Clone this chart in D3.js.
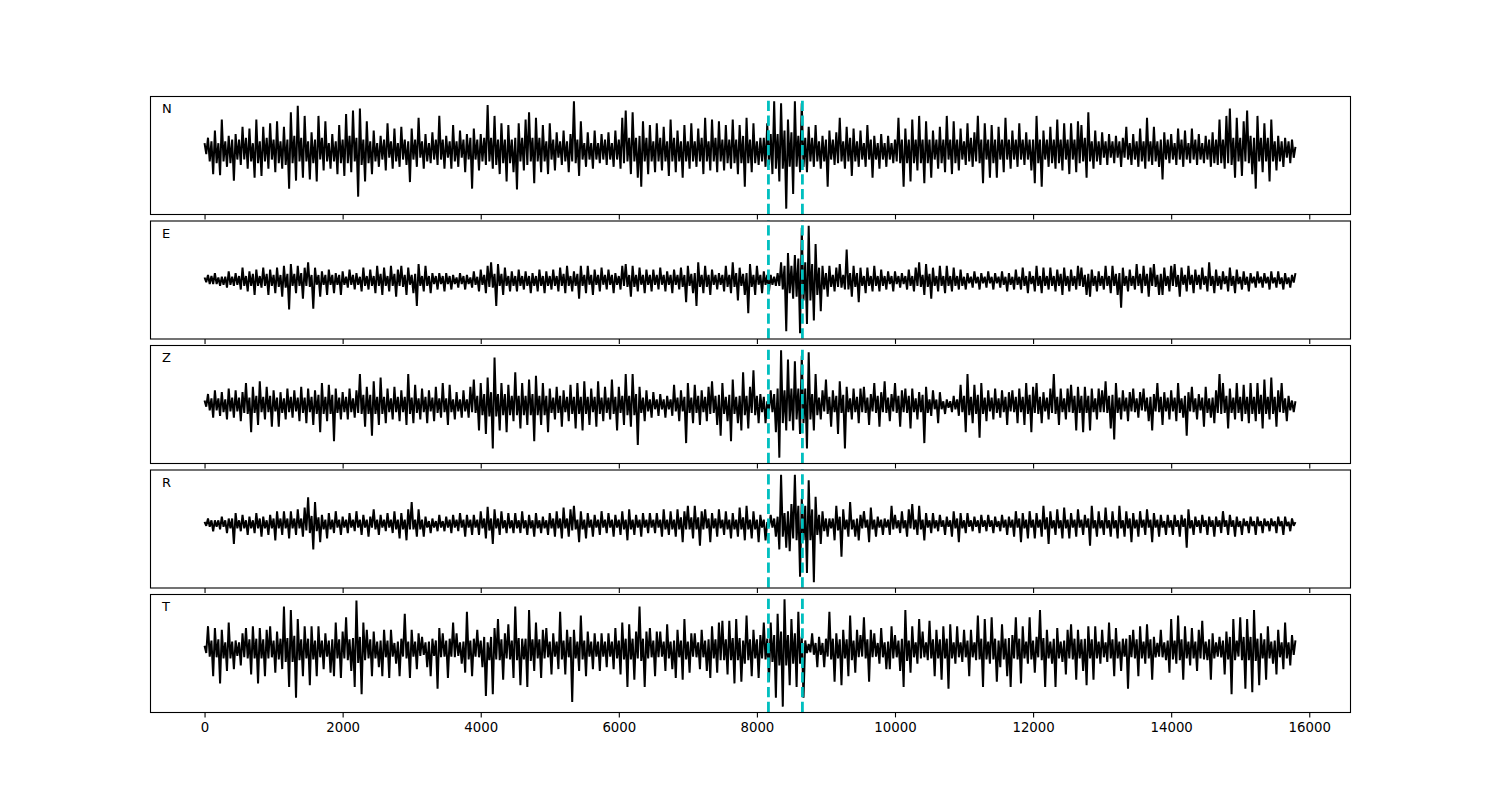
<!DOCTYPE html>
<html>
<head>
<meta charset="utf-8">
<script src="https://cdn.jsdelivr.net/npm/d3@7"></script>
<style>
  body { margin: 0; background: #fff; }
  text { font-family: "DejaVu Sans", sans-serif; }
</style>
</head>
<body>
<div id="chart"></div>
<script>
// component names, pick times and ticks
const components = ["N", "E", "Z", "R", "T"];
const pickTimes = [8167, 8659];
const xTickValues = [0, 2000, 4000, 6000, 8000, 10000, 12000, 14000, 16000];
const sampleStep = 50; // one peak every 50 samples, 0 .. 15800

// peak amplitudes (arbitrary units, up = positive)
const traceN = [
  -10, 35, -65, 55, -68, 85, -45, 40, -83, 45,
  -40, 65, -50, 60, -75, 85, -70, 65, -50, 75,
  -60, 80, -50, 65, -105, 105, -83, 123, -75, 95,
  -80, 50, -85, 95, -55, 80, -50, 45, -65, 70,
  -70, 100, -60, 110, -127, 115, -85, 80, -65, 55,
  -45, 40, -55, 75, -50, 60, -45, 65, -40, -87,
  60, -45, 90, -50, 45, -35, 50, -40, 95, -50,
  40, -50, 70, -45, 55, -60, 45, -105, 60, -55,
  45, -40, 125, -50, 95, -65, 75, -85, 70, -60,
  -107, 75, -55, 85, 105, -90, 90, -60, 70, -65,
  75, -55, 50, -40, 55, -60, 45, 135, -70, 80,
  -45, 50, -50, 55, -35, 45, -40, 50, -45, 55,
  -50, 90, 110, -65, 105, -75, -100, 80, -65, 70,
  -60, 75, -55, 65, -70, 85, -60, 55, -75, 70,
  -50, 75, -45, 60, -65, 90, -55, 85, -60, 80,
  -55, 70, -50, 85, -65, 70, -100, 90, -60, 75,
  -40, 35, -45, 75, -65, 135, -85, 130, -160, 85,
  -120, 135, -60, 130, -60, 65, -45, 70, -50, 40,
  -100, 55, -40, 50, 90, -50, 65, -70, 60, -45,
  55, -45, 70, -75, 40, -50, 45, -45, 40, -35,
  30, 90, -100, 60, -85, 85, -55, 95, -90, 80,
  -75, 55, -50, 65, -60, 95, -65, 80, -55, 60,
  -40, 75, -45, 50, 95, -90, 75, -75, 70, -75,
  65, -60, 90, -50, 55, -45, 75, -40, 50, -55,
  -90, 95, -100, 55, -45, 65, -50, 85, -55, 75,
  -65, 75, -60, 80, 70, -75, 105, -50, 55, -40,
  50, -40, 45, -35, 40, -45, 35, 65, -40, 45,
  -45, 60, -50, 90, -40, 65, -45, -80, 50, -35,
  45, -40, 60, -45, 55, -35, 60, -40, 45, -35,
  40, -45, 50, -40, 85, -50, 95, 115, -75, 90,
  -70, 80, 110, -65, -105, 95, -60, 75, -85, 85,
  -55, 40, -45, 35, -35, 30, 10
];
// small wiggle between peaks (width of the dense band)
const coreN = [
  20, 30, 25, 35, 20, 30, 25, 35, 30, 25,
  30, 25, 35, 30, 20, 35, 25, 30, 35, 25,
  30, 35, 25, 40, 30, 35, 40, 30, 35, 30,
  25, 35, 30, 25, 35, 30, 20, 30, 25, 35,
  30, 35, 40, 30, 35, 40, 30, 35, 25, 30,
  20, 25, 30, 20, 25, 30, 20, 25, 30, 25,
  25, 30, 20, 25, 30, 20, 25, 30, 25, 30,
  20, 25, 30, 25, 20, 30, 25, 35, 25, 30,
  30, 35, 30, 35, 40, 30, 35, 30, 35, 30,
  35, 30, 35, 40, 30, 35, 30, 35, 30, 25,
  25, 30, 20, 25, 30, 25, 30, 35, 30, 25,
  20, 25, 20, 25, 20, 25, 30, 25, 20, 25,
  30, 35, 30, 35, 30, 35, 40, 30, 35, 30,
  25, 30, 35, 30, 25, 30, 35, 30, 25, 30,
  25, 30, 25, 30, 35, 30, 25, 30, 35, 30,
  30, 35, 30, 35, 30, 35, 40, 35, 30, 35,
  25, 30, 35, 40, 45, 50, 45, 50, 55, 45,
  50, 45, 40, 45, 35, 30, 35, 30, 25, 30,
  30, 25, 30, 35, 30, 25, 30, 35, 30, 25,
  25, 20, 25, 30, 25, 20, 25, 20, 25, 20,
  30, 35, 30, 35, 30, 35, 30, 35, 30, 35,
  30, 25, 30, 35, 30, 25, 30, 35, 30, 25,
  25, 30, 35, 30, 35, 30, 25, 30, 35, 30,
  25, 30, 25, 30, 25, 30, 25, 30, 25, 30,
  30, 35, 30, 25, 30, 35, 30, 35, 30, 25,
  30, 25, 30, 35, 30, 35, 30, 25, 30, 25,
  20, 25, 20, 25, 20, 25, 20, 25, 20, 25,
  25, 30, 25, 30, 25, 30, 25, 30, 25, 30,
  25, 20, 25, 30, 25, 20, 25, 30, 25, 20,
  25, 30, 35, 30, 35, 30, 35, 40, 35, 30,
  35, 30, 35, 40, 35, 30, 35, 30, 35, 30,
  25, 30, 25, 20, 25, 20, 10
];

const traceE = [
  -5, 15, -10, 20, -15, 10, -20, 25, -15, 20,
  -25, 35, -30, 25, -40, 30, -20, 35, -40, 30,
  -35, 35, -45, 40, -80, 45, -35, 40, -50, 35,
  50, -78, 35, -45, 25, -40, 30, -35, 20, -40,
  25, -20, 30, -25, 20, -30, 35, -25, 30, -35,
  40, -40, 35, -30, 40, -45, 30, 40, -40, 35,
  -35, -70, 45, -30, 40, -35, 20, -25, 20, -30,
  20, -25, 15, -20, 20, -25, 15, -20, 25, -30,
  30, -35, 40, 50, -70, 45, -40, 35, -30, 25,
  -30, 30, -25, 25, -35, 20, -30, 30, -35, 25,
  -25, 30, -30, 35, -35, 40, -30, 25, -50, 40,
  -35, 40, -40, 30, -30, 35, -25, 30, -35, 20,
  -25, 40, 45, -45, 40, -30, 35, -35, 30, -30,
  30, -25, 35, -30, 25, -35, 30, -25, 35, -60,
  40, -35, -70, 50, -35, 40, -40, 30, -25, 20,
  -30, 40, -35, 50, -55, 35, -40, -90, 45, -40,
  40, -35, 25, -30, 15, -15, 20, 50, -140, 75,
  -50, 70, -145, 145, -120, 150, -110, 100, -85, 40,
  -45, 40, -30, 35, 45, -25, 85, -45, 40, -60,
  35, -35, 35, -30, 40, -30, 30, -25, 25, -30,
  25, -20, 20, -25, 30, -30, 35, 50, -40, 45,
  -50, 35, -30, 40, -35, 40, -30, 35, -25, 30,
  -25, 20, -20, 25, -25, 20, -20, 25, -25, 20,
  -20, 25, -30, 20, -25, 30, -25, 35, -35, 25,
  -30, 40, -35, 35, -25, 35, -30, 30, -40, 35,
  -30, 30, -25, 40, 35, -40, -45, 30, -30, 25,
  -25, 40, -35, 40, -40, -75, 35, -30, 30, -25,
  45, -35, 40, -45, 35, 45, -40, -40, 35, -30,
  40, 45, -45, 35, -30, 40, -35, 30, -25, 35,
  -30, 50, -35, 30, -25, 25, -30, 35, -35, 30,
  -25, 25, -30, 20, -20, 25, -20, 20, -25, 25,
  -20, 25, -25, 20, -20, 15, 20
];
const coreE = [
  8, 10, 12, 10, 8, 12, 10, 12, 10, 12,
  12, 15, 12, 15, 18, 15, 12, 15, 18, 15,
  15, 18, 15, 20, 18, 15, 18, 15, 20, 15,
  18, 15, 12, 15, 12, 15, 12, 15, 12, 15,
  12, 10, 12, 15, 12, 10, 15, 12, 15, 12,
  15, 18, 15, 12, 15, 18, 15, 18, 15, 12,
  15, 18, 15, 12, 15, 12, 10, 12, 10, 12,
  10, 12, 10, 8, 10, 12, 10, 8, 12, 10,
  12, 15, 18, 20, 18, 15, 18, 15, 12, 15,
  12, 15, 12, 15, 12, 15, 12, 15, 12, 15,
  12, 15, 12, 15, 18, 15, 12, 15, 18, 15,
  15, 12, 15, 12, 15, 12, 15, 12, 15, 12,
  12, 15, 18, 15, 18, 15, 12, 15, 12, 15,
  12, 15, 12, 15, 12, 15, 12, 15, 18, 15,
  15, 18, 20, 18, 15, 18, 15, 12, 15, 12,
  15, 18, 15, 18, 20, 15, 18, 20, 18, 15,
  12, 15, 12, 15, 12, 10, 15, 25, 40, 35,
  40, 45, 60, 55, 50, 55, 45, 40, 35, 25,
  20, 18, 15, 18, 20, 15, 25, 20, 18, 20,
  15, 12, 15, 12, 15, 12, 15, 12, 10, 12,
  10, 12, 10, 12, 15, 12, 15, 18, 15, 18,
  18, 15, 12, 15, 12, 15, 12, 15, 12, 15,
  10, 8, 10, 8, 10, 8, 10, 8, 10, 8,
  10, 12, 10, 12, 10, 12, 10, 15, 12, 10,
  12, 15, 12, 15, 12, 15, 12, 15, 18, 15,
  12, 15, 12, 15, 18, 15, 18, 15, 12, 15,
  12, 15, 12, 15, 18, 20, 15, 12, 15, 12,
  15, 18, 15, 18, 15, 18, 15, 18, 15, 12,
  15, 18, 15, 12, 15, 12, 15, 12, 15, 12,
  12, 15, 12, 15, 12, 10, 12, 15, 12, 10,
  10, 12, 10, 8, 10, 8, 10, 8, 10, 8,
  8, 10, 8, 10, 8, 6, 5
];

const traceZ = [
  -5, 30, -35, 40, -30, 35, -40, 45, -35, 40,
  -45, 35, 60, -75, 50, -55, 65, -40, 50, -60,
  40, -60, 35, -40, 45, -35, 40, -45, 50, -50,
  45, -55, 40, -75, 60, -45, 55, -100, 45, -40,
  35, -40, 45, -35, 40, 85, -60, 50, -85, 65,
  -55, 75, -50, 45, -40, 50, -45, 40, -55, 85,
  -50, 55, -40, 45, -50, 40, -45, 50, -35, 60,
  -55, 55, -40, 35, -35, 40, -35, 50, 70, -70,
  60, -80, 75, -120, 130, -70, 60, -75, 55, -45,
  90, -65, 60, -55, 70, -100, 80, -55, 60, -75,
  45, -40, 50, -60, 40, -45, 55, -65, 60, -70,
  65, -55, 45, -60, 65, -45, 50, -40, 70, -70,
  50, -55, 85, -60, 85, -110, 50, -45, 40, -35,
  35, -30, 30, -35, 25, -30, 55, -45, 40, -105,
  60, -50, 55, -55, 40, -45, 50, 65, -55, -85,
  60, -45, -100, 70, -50, -70, 90, -65, 50, 95,
  -50, 30, -50, 10, 40, -75, -145, 150, -70, 125,
  -70, 120, -80, 135, -120, 145, -70, 85, -40, 40,
  70, -60, 40, -80, 65, -120, 50, -40, 45, -50,
  45, 50, -55, 30, 60, -60, 35, 65, -45, 30,
  60, -60, 40, 45, -65, 45, -40, 35, -105, 50,
  -30, 40, -50, 35, -25, 15, -20, 25, -30, 55,
  -75, 85, -50, 55, -90, 60, -45, 40, -40, 45,
  -35, 40, -55, 35, 40, -50, 45, -55, 60, -75,
  50, 60, -50, 35, -40, 45, 85, -55, 45, -40,
  45, 55, -70, 50, -75, 50, -70, 45, -40, 45,
  40, 65, -65, -95, 60, -40, 40, -45, 35, 45,
  -35, 35, 45, -45, -70, 30, 60, -55, 35, -40,
  40, -45, 60, -35, -85, 35, 50, -40, 30, -60,
  50, -35, -50, 40, 85, 60, -65, 45, -40, 60,
  -45, 55, -50, 60, -45, 60, -65, 70, -40, 75,
  -60, 40, 60, -45, 25, -20, 10
];
const coreZ = [
  12, 15, 18, 15, 18, 20, 15, 18, 20, 18,
  20, 22, 25, 20, 22, 25, 20, 22, 20, 25,
  18, 20, 22, 18, 20, 22, 18, 20, 22, 20,
  20, 22, 25, 28, 25, 22, 25, 28, 22, 20,
  20, 22, 20, 18, 22, 25, 28, 25, 28, 25,
  22, 25, 22, 20, 18, 20, 22, 20, 22, 25,
  20, 22, 18, 20, 22, 18, 20, 22, 18, 20,
  18, 20, 15, 18, 15, 18, 15, 20, 22, 25,
  28, 30, 32, 35, 32, 30, 28, 30, 28, 25,
  28, 25, 28, 25, 28, 30, 28, 25, 28, 25,
  22, 20, 22, 25, 20, 22, 25, 22, 25, 22,
  25, 22, 20, 22, 25, 20, 22, 20, 25, 22,
  22, 25, 28, 25, 28, 30, 22, 20, 18, 15,
  12, 15, 12, 15, 12, 15, 18, 20, 18, 22,
  22, 20, 22, 25, 20, 22, 25, 22, 25, 28,
  25, 22, 28, 25, 22, 25, 28, 25, 22, 28,
  25, 20, 22, 15, 20, 30, 45, 50, 40, 45,
  45, 40, 45, 50, 45, 40, 30, 28, 20, 18,
  25, 22, 20, 25, 22, 28, 20, 18, 20, 22,
  20, 22, 20, 18, 22, 25, 20, 22, 20, 18,
  22, 25, 20, 22, 25, 20, 18, 20, 28, 22,
  15, 12, 15, 12, 10, 8, 10, 12, 15, 20,
  25, 28, 22, 25, 28, 25, 20, 18, 20, 22,
  18, 20, 22, 18, 20, 22, 20, 22, 25, 28,
  22, 25, 22, 18, 20, 22, 25, 22, 20, 18,
  20, 22, 25, 22, 25, 22, 25, 20, 18, 20,
  20, 22, 25, 28, 22, 20, 18, 20, 18, 20,
  18, 15, 18, 20, 22, 18, 20, 22, 18, 20,
  18, 20, 22, 18, 25, 18, 20, 18, 15, 20,
  22, 18, 20, 22, 25, 22, 25, 22, 20, 22,
  22, 25, 22, 25, 22, 25, 28, 25, 22, 25,
  22, 20, 22, 18, 15, 12, 8
];

const traceR = [
  -5, 15, -20, 10, -15, 20, -25, 15, -55, 30,
  -20, 25, -30, 20, -25, 30, -35, 20, -30, 25,
  -45, 35, -30, 35, -40, 35, -30, 40, -35, 45,
  73, -70, 60, -50, 25, -40, 30, -25, 35, -30,
  20, -25, 30, -20, 35, -30, 25, -35, 20, 40,
  -30, 25, -20, 30, -25, 35, -40, 30, -45, 40,
  60, -35, 40, -35, 20, -25, 15, -20, 25, -20,
  20, -25, 25, -20, 30, -35, 25, -30, 25, -30,
  35, -40, 47, -55, 40, -30, 35, -25, 30, -25,
  30, -25, 35, -30, 25, -35, 30, -25, 20, -30,
  30, -35, 35, -40, 45, -35, 40, 50, -50, 35,
  -40, 30, -35, 25, -30, 35, -25, 30, -35, 25,
  -30, 35, -45, 40, -30, 25, -35, 30, -25, 30,
  -25, 30, -35, 40, -30, 35, -35, 40, -50, 35,
  50, -40, 50, -60, 35, 40, -50, 30, -35, 40,
  -30, 35, -40, 30, -35, 45, -45, 50, -40, 35,
  -50, 25, -45, 5, 25, -35, -70, 135, -65, -75,
  55, 135, -145, 70, -135, 120, -160, 75, -55, 35,
  -35, 15, -45, 50, -90, 40, -35, 60, -35, -45,
  25, 35, -50, 45, -35, 20, -30, 15, -30, 50,
  25, -25, 35, -35, 40, 55, -30, 50, -45, 30,
  -25, 30, -20, 25, -30, 20, -35, 35, -50, 30,
  -25, 30, -20, 20, -25, 25, -20, 25, -25, 20,
  -20, 25, -30, 20, -35, 35, -50, 30, -40, 35,
  -40, 30, -35, 50, -55, 35, -30, 40, -40, 45,
  -40, 30, -35, 40, -30, 25, -60, 50, -35, 35,
  -30, 45, -35, 35, -40, 50, -35, 35, -50, 30,
  -35, 35, -30, 40, -50, 30, -35, 25, -30, 25,
  -30, 25, -35, 25, -65, 40, -30, 20, -25, 25,
  -30, 20, -35, 20, -25, 35, -30, 25, -35, 20,
  -30, 15, -25, 20, -30, 20, -25, 15, -20, 15,
  -25, 20, -30, 20, -20, 15, -25
];
const coreR = [
  6, 8, 10, 8, 10, 8, 10, 12, 15, 12,
  10, 12, 10, 12, 10, 12, 15, 12, 10, 12,
  15, 12, 15, 12, 15, 12, 15, 12, 15, 18,
  25, 22, 20, 18, 15, 12, 15, 12, 10, 12,
  10, 12, 10, 12, 10, 12, 10, 12, 10, 15,
  12, 10, 12, 10, 12, 15, 12, 15, 12, 15,
  15, 12, 15, 12, 10, 8, 10, 8, 10, 8,
  10, 12, 10, 12, 10, 12, 10, 12, 10, 12,
  12, 15, 18, 15, 12, 15, 12, 10, 12, 10,
  12, 10, 12, 10, 12, 10, 12, 10, 12, 10,
  12, 15, 12, 15, 12, 15, 18, 15, 12, 15,
  12, 10, 12, 10, 12, 10, 12, 10, 12, 10,
  12, 15, 12, 15, 12, 10, 12, 10, 12, 10,
  12, 10, 12, 15, 12, 15, 12, 15, 18, 15,
  15, 18, 15, 18, 15, 12, 15, 12, 15, 12,
  12, 15, 12, 15, 12, 15, 18, 15, 12, 15,
  12, 10, 12, 8, 10, 15, 20, 35, 30, 35,
  40, 45, 50, 45, 50, 45, 40, 30, 25, 20,
  15, 12, 15, 18, 20, 15, 12, 15, 12, 15,
  12, 10, 12, 15, 12, 10, 12, 10, 12, 15,
  12, 10, 12, 10, 12, 15, 12, 15, 12, 10,
  10, 12, 10, 8, 10, 8, 10, 12, 15, 12,
  10, 8, 10, 8, 10, 8, 10, 8, 10, 8,
  8, 10, 12, 10, 12, 10, 15, 12, 12, 10,
  12, 10, 12, 15, 18, 12, 10, 12, 10, 12,
  12, 10, 12, 10, 12, 10, 15, 12, 10, 12,
  10, 12, 10, 12, 10, 12, 10, 12, 15, 12,
  12, 10, 12, 10, 12, 10, 12, 10, 8, 10,
  10, 8, 10, 8, 15, 12, 10, 8, 10, 8,
  10, 8, 10, 8, 10, 8, 10, 8, 10, 8,
  8, 6, 8, 6, 8, 6, 8, 6, 8, 6,
  8, 6, 8, 6, 6, 5, 5
];

const traceT = [
  -10, 65, -75, 60, -95, 55, -60, 75, -55, 25,
  -45, 45, 60, -70, 65, -95, 60, -75, 55, 65,
  -65, 50, -55, 120, -105, 110, -135, 85, -75, 65,
  -100, 65, -75, 65, -55, 45, -65, -75, 75, -80,
  50, 90, -60, -105, 137, -125, 75, 55, -75, 50,
  -50, -75, 55, -80, 55, -40, -75, 30, 100, -80,
  55, -55, 45, 35, -50, -75, 30, -110, 60, 45,
  -80, 30, 75, 45, -40, -65, 105, -75, 30, 55,
  -50, -130, 20, -125, 60, 85, -85, 45, 70, -80,
  120, -100, 30, -105, 110, -60, 75, -80, 55, 60,
  -70, 45, -55, 105, -70, 55, -147, 55, -60, 95,
  -75, 50, -55, 45, -60, 45, -50, 45, -55, 60,
  -70, 75, -105, 70, -85, 50, 120, -105, 50, 60,
  -75, 50, 50, -60, 70, -55, -80, 55, -85, 85,
  -65, 45, 45, -55, 55, -60, -80, 65, -65, 75,
  80, -70, 80, -95, 85, -90, -40, 95, -75, 55,
  -80, 40, 75, -90, 75, -135, 100, -160, 140, -100,
  85, -105, 105, -135, 25, 15, 45, -50, 35, -50,
  30, 105, -90, 45, -100, 55, -75, 95, -65, 55,
  40, 90, -90, 55, 45, -40, 60, -55, -55, 65,
  40, -60, -105, 110, -65, 65, -40, 85, 50, -30,
  80, -75, 55, -85, 65, -110, 70, -40, 65, -35,
  55, -75, 55, -30, 95, -105, 85, -40, 90, -90,
  -50, 70, -75, -105, 40, 90, -95, 65, -40, 90,
  -65, 35, 110, -105, 55, -40, -105, 60, -35, -70,
  55, 70, -85, 55, -60, -100, 65, -85, 65, -40,
  55, -35, 75, -75, 60, -60, 30, -110, 40, 55,
  -75, 65, -40, 70, -85, 35, -20, 55, -30, -65,
  85, -40, 95, -85, 65, -45, 60, -60, 55, 80,
  -30, -85, 45, -20, 35, -70, 50, -125, 85, -20,
  90, -110, 85, -120, 110, -100, 45, -85, 65, -40,
  -70, 55, -55, 75, -45, 40, 25
];
const coreT = [
  10, 20, 25, 22, 28, 25, 20, 25, 22, 18,
  20, 22, 25, 28, 25, 30, 25, 28, 25, 22,
  25, 28, 30, 35, 32, 35, 38, 30, 28, 25,
  30, 28, 25, 22, 25, 20, 25, 28, 25, 28,
  25, 30, 28, 32, 38, 35, 30, 25, 28, 25,
  22, 25, 22, 25, 20, 18, 22, 20, 25, 22,
  20, 22, 18, 15, 20, 22, 18, 25, 22, 20,
  25, 20, 22, 18, 20, 22, 28, 25, 20, 22,
  25, 35, 30, 35, 28, 30, 28, 25, 28, 25,
  30, 32, 28, 30, 32, 28, 25, 28, 25, 22,
  22, 20, 22, 28, 25, 22, 35, 25, 22, 28,
  25, 20, 22, 20, 22, 20, 22, 20, 22, 25,
  25, 28, 30, 28, 30, 25, 32, 30, 25, 22,
  25, 22, 20, 22, 25, 22, 25, 22, 25, 28,
  22, 20, 22, 20, 22, 25, 28, 25, 28, 30,
  30, 28, 30, 32, 30, 32, 25, 30, 28, 25,
  28, 25, 28, 30, 35, 40, 45, 50, 45, 40,
  40, 45, 40, 35, 10, 8, 15, 18, 15, 18,
  20, 28, 30, 25, 28, 25, 28, 30, 25, 22,
  20, 25, 28, 22, 20, 18, 22, 20, 22, 25,
  22, 25, 30, 32, 25, 22, 20, 25, 22, 20,
  25, 28, 25, 28, 25, 30, 25, 20, 22, 20,
  22, 25, 22, 20, 28, 30, 28, 22, 28, 30,
  25, 28, 30, 32, 25, 28, 30, 25, 22, 28,
  25, 22, 30, 32, 25, 22, 30, 25, 22, 25,
  25, 28, 30, 25, 28, 30, 25, 28, 25, 22,
  22, 20, 25, 28, 25, 22, 20, 30, 22, 25,
  28, 25, 22, 25, 28, 22, 18, 22, 20, 25,
  28, 25, 30, 28, 25, 22, 25, 22, 25, 28,
  22, 28, 25, 20, 22, 25, 28, 35, 30, 25,
  30, 35, 30, 35, 32, 30, 25, 28, 25, 22,
  25, 22, 20, 25, 20, 15, 10
];

const traces = [
  [traceN, coreN],
  [traceE, coreE],
  [traceZ, coreZ],
  [traceR, coreR],
  [traceT, coreT],
];

// figure layout (matplotlib 15x8 in @ 100 dpi, 5 stacked axes)
const width = 1500,
  height = 800,
  left = 150,
  right = 1350,
  panelTop = 96,
  panelH = 118,
  panelGap = 6.5;

// peaks plus the wiggle between them, as [sample, amplitude] points
function buildSeries(peaks, core) {
  const pts = [];
  const half = sampleStep / 2;
  peaks.forEach((v, j) => {
    const t = j * sampleStep;
    const last = j === peaks.length - 1;
    if (v >= 0) {
      pts.push([t, v]);
      if (!last) pts.push([t + half, -core[j]]);
    } else {
      pts.push([t, core[j]]);
      if (!last) pts.push([t + half, v]);
    }
  });
  return pts;
}

const svg = d3
  .select("#chart")
  .append("svg")
  .attr("width", width)
  .attr("height", height);

// shared x scale, 5% margins like matplotlib autoscale
const dataEnd = (traceN.length - 1) * sampleStep;
const xPad = dataEnd * 0.05;
const x = d3
  .scaleLinear()
  .domain([-xPad, dataEnd + xPad])
  .range([left, right]);

components.forEach((name, k) => {
  const series = buildSeries(traces[k][0], traces[k][1]);
  const top = panelTop + k * (panelH + panelGap);
  const bottom = top + panelH;

  const ext = d3.extent(series, (d) => d[1]);
  const yPad = (ext[1] - ext[0]) * 0.05;
  const y = d3
    .scaleLinear()
    .domain([ext[0] - yPad, ext[1] + yPad])
    .range([bottom, top]);

  const g = svg.append("g");

  g.append("clipPath")
    .attr("id", "clip" + k)
    .append("rect")
    .attr("x", left)
    .attr("y", top)
    .attr("width", right - left)
    .attr("height", panelH);

  const line = d3
    .line()
    .x((d) => x(d[0]))
    .y((d) => y(d[1]));

  g.append("path")
    .datum(series)
    .attr("clip-path", `url(#clip${k})`)
    .attr("fill", "none")
    .attr("stroke", "#000")
    .attr("stroke-width", 2)
    .attr("stroke-linejoin", "miter")
    .attr("stroke-miterlimit", 3)
    .attr("d", line);

  // pick markers, drawn bottom to top so the dash starts at the bottom
  g.selectAll(".pick")
    .data(pickTimes)
    .enter()
    .append("line")
    .attr("class", "pick")
    .attr("x1", (d) => x(d))
    .attr("x2", (d) => x(d))
    .attr("y1", bottom)
    .attr("y2", top)
    .attr("stroke", "#00bfbf")
    .attr("stroke-width", 2.8)
    .attr("stroke-dasharray", "10.3,4.4");

  // frame
  g.append("rect")
    .attr("x", left + 0.5)
    .attr("y", top + 0.5)
    .attr("width", right - left)
    .attr("height", panelH)
    .attr("fill", "none")
    .attr("stroke", "#000")
    .attr("stroke-width", 1.1);

  // x axis: ticks on every panel, labels only on the last
  const axis = d3
    .axisBottom(x)
    .tickValues(xTickValues)
    .tickSize(4.9)
    .tickPadding(4.9)
    .tickFormat(k === components.length - 1 ? d3.format("d") : () => "");

  const ax = g
    .append("g")
    .attr("transform", `translate(0,${bottom + 0.5})`)
    .call(axis);
  ax.select(".domain").remove();
  ax.selectAll("line").attr("stroke", "#000").attr("stroke-width", 1.1);
  ax.selectAll("text")
    .attr("fill", "#000")
    .style("font-size", "13.3px")
    .style("font-family", "DejaVu Sans, sans-serif");

  // component label
  g.append("text")
    .attr("x", 162)
    .attr("y", top + 17)
    .style("font-size", "13px")
    .attr("fill", "#000")
    .text(name);
});
</script>
</body>
</html>
